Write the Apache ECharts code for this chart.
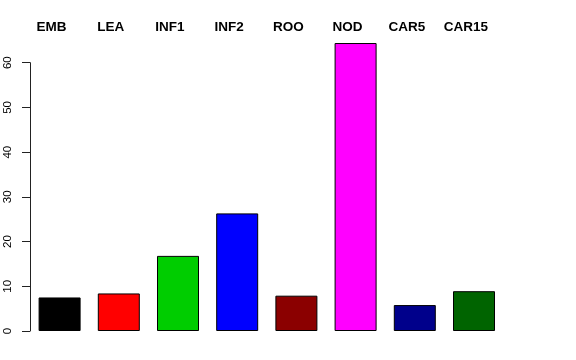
<!DOCTYPE html>
<html>
<head>
<meta charset="utf-8">
<script src="https://cdn.jsdelivr.net/npm/echarts@6/dist/echarts.min.js"></script>
<style>
html,body{margin:0;padding:0;background:#fff;}
#chart{width:576px;height:360px;}
</style>
</head>
<body>
<div id="chart"></div>
<script>
var categories = ['EMB', 'LEA', 'INF1', 'INF2', 'ROO', 'NOD', 'CAR5', 'CAR15'];
var values = [7.5, 8.4, 16.8, 26.3, 7.9, 64.4, 5.8, 8.9];
var barColors = ['#000000', '#FF0000', '#00CD00', '#0000FF', '#8B0000', '#FF00FF', '#00008B', '#006400'];
var yTicks = [0, 10, 20, 30, 40, 50, 60];

var chart = echarts.init(document.getElementById('chart'), null, {renderer: 'canvas'});
chart.setOption({
  animation: false,
  backgroundColor: '#ffffff',
  grid: {left: 30, top: 62.7, width: 473.6, height: 268.3, containLabel: false},
  xAxis: {
    type: 'category',
    data: categories,
    position: 'top',
    axisLine: {show: false},
    axisTick: {show: false},
    axisLabel: {
      margin: 28,
      color: '#000',
      fontFamily: 'Liberation Sans',
      fontWeight: 'bold',
      fontSize: 13.5,
      padding: [0, 16, 0, 0]
    }
  },
  yAxis: {
    type: 'value',
    min: yTicks[0],
    max: yTicks[yTicks.length - 1],
    interval: 10,
    splitLine: {show: false},
    axisLine: {show: true, lineStyle: {color: '#222', width: 1}},
    axisTick: {show: true, length: 8, lineStyle: {color: '#222'}},
    axisLabel: {
      rotate: 90,
      margin: 16,
      color: '#000',
      fontFamily: 'Liberation Sans',
      fontSize: 11.5
    }
  },
  series: [{
    type: 'bar',
    clip: false,
    barWidth: 42,
    data: values.map(function (v, i) {
      return {value: v, itemStyle: {color: barColors[i]}};
    }),
    itemStyle: {borderColor: '#000', borderWidth: 1}
  }]
});
</script>
</body>
</html>
